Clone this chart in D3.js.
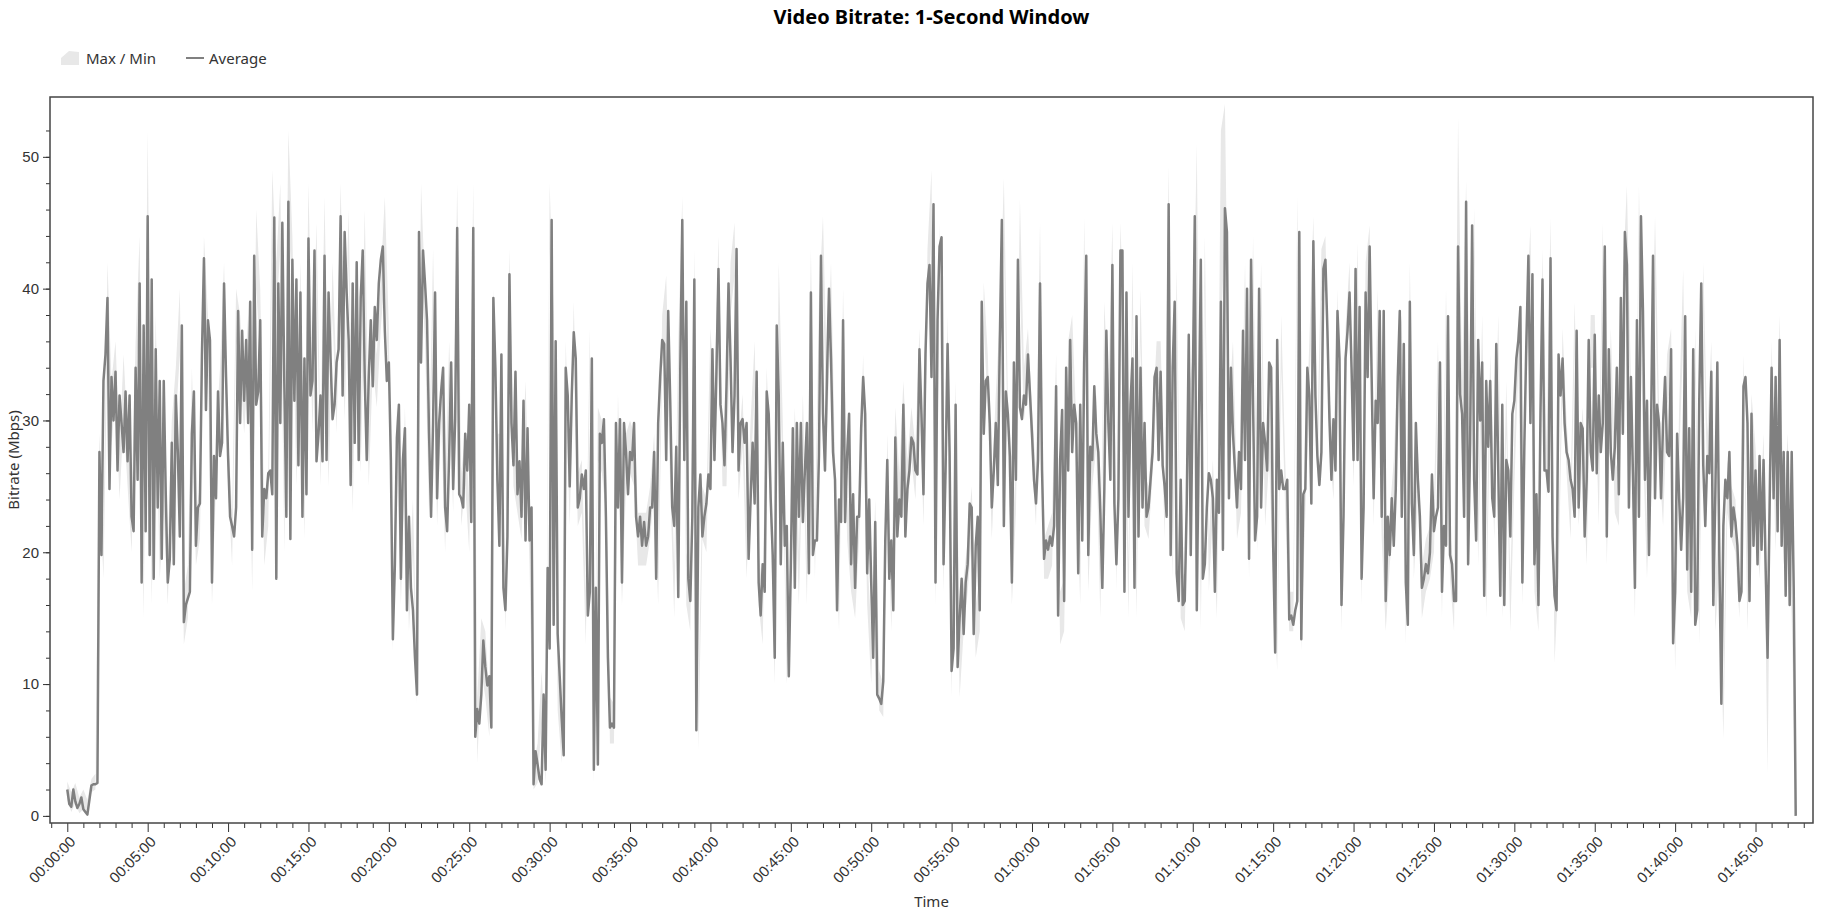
<!DOCTYPE html>
<html>
<head>
<meta charset="utf-8">
<title>Video Bitrate</title>
<style>
body { margin: 0; background: #fff; }
svg { display: block; font-family: 'Segoe UI', 'Noto Sans', 'Open Sans', sans-serif; }
.title { font-size: 20px; font-weight: bold; fill: #000; text-anchor: middle; }
.legend-label { font-size: 15px; fill: #333; dominant-baseline: central; }
.axis text { font-size: 15px; fill: #333; }
.axis line { stroke: #333; }
.axis path { display: none; }
.axis-title { font-size: 15px; fill: #333; text-anchor: middle; }
.frame { fill: none; stroke: #444; stroke-width: 1.5px; }
.band { fill: #e8e8e8; }
.avg { fill: none; stroke: #808080; stroke-width: 2.5px; stroke-linejoin: round; }
</style>
</head>
<body>
<svg width="1837" height="916"></svg>
<script src="https://cdn.jsdelivr.net/npm/d3@7"></script>
<script>
// average read every 7.5 s, max/min band every 15 s (Mbps)
var avgStepSeconds = 7.5;
var bandStepSeconds = 15;

var avgMbps = [
  2.0,0.9,0.7,2.0,1.1,0.6,0.9,1.4, 0.5,0.3,0.1,1.2,2.3,2.4,2.4,2.5,
  27.6,19.8,33,35,39.3,24.8,33.3,30, 33.7,26.2,31.9,29.8,27.6,32.2,26.9,31.9,
  22.7,21.6,34,25.5,40.4,17.7,37.2,21.6, 45.5,19.8,40.7,18,35.4,23.4,33,19.5,
  33,24.4,17.7,19.5,28.3,19.1,31.9,27.6, 21.2,37.2,14.7,16,16.5,17,29,32.2,
  20.5,23.4,23.7,35,42.3,30.8,37.6,36.1, 17.7,27.3,24.1,32.2,27.3,28.3,40.4,33.3,
  27.3,22.7,22,21.2,23.4,38.3,29.8,36.8, 31.5,36.1,29.8,39,20.2,42.5,31.2,32.2,
  37.6,21.2,24.8,24.1,26,26.2,24.4,45.4, 18,40.4,29.8,45,32.6,22.7,46.6,21,
  42.2,31.5,40.7,26.6,39.7,22.7,34.7,24.4, 43.8,31.9,33,42.9,26.9,29,31.9,26.9,
  42.5,27,39.7,34.7,30.1,31.2,34.4,35.4, 45.5,31.9,44.3,39.7,36.1,25.1,40.4,28.3,
  42,27,39.3,42.9,33.3,27,33.3,37.6, 32.6,38.6,36.1,40.4,42.2,43.2,36.8,33,
  34.4,27,13.4,19.1,28.7,31.2,18,27, 29.4,15.6,22.7,17.3,15.6,12,9.2,44.3,
  34.4,42.9,40.4,37.6,29,22.7,29.8,39.7, 24.1,29.8,32.2,34,23.4,21.6,27.3,34.4,
  24.8,30.1,44.6,24.4,24.1,23.4,29,26.2, 31.2,22.3,44.6,6,8.1,7,9.2,13.3,
  11.3,9.9,10.6,6.7,39.3,34,25.5,20.5, 35,17.3,15.6,21.2,41.1,29.8,26.6,33.7,
  24.4,26.9,22.7,31.5,20.9,29.4,20.9,23.4, 2.4,4.9,3.9,2.8,2.4,9.2,3.5,18.8,
  12.7,45.2,14.5,36,13.8,10.6,7.4,4.6, 34,31.9,25,31.9,36.7,34.7,23.4,24.1,
  25.9,24.8,26.2,15.2,17,34.7,3.5,17.3, 3.9,29,28.3,30.1,22.7,12,6.7,7,
  6.7,29.8,23.4,30.1,17.7,29.8,27.6,24.4, 27.6,27,29.8,22.7,21.2,22.7,20.5,22.3,
  20.5,21.2,23.4,23.4,27.6,18,29.8,33.3, 36.1,35.8,27,38.3,31.5,23.4,22,28,
  16.6,34,45.2,27,39,18,16.3,22.7, 40.7,6.5,23.4,25.9,21.2,22.7,23.7,25.9,
  24.8,35.4,27,33.7,41.5,31.2,29.8,26.6, 32.6,40.4,34.7,27.6,31.9,43,26.2,29.8,
  30.1,28.3,29.8,19.5,24,28.3,23.7,33.7, 17.7,15.2,19.1,17,32.2,30.5,24,19.8,
  12,37.2,31.9,19.1,28.3,20.5,22,10.6, 18.8,29.4,17.3,29.8,22.7,29.8,22.3,26.2,
  29.8,18.4,39.7,19.8,20.9,20.9,27.3,42.5, 30.5,26.2,33.3,40,34.7,27.6,25.5,15.6,
  24,22.3,37.6,22.3,27.3,30.5,19.1,24.4, 17.3,22.7,22.7,29.4,33.3,30.5,18.4,24,
  17.7,12,22.3,9.2,8.9,8.5,10.2,20.9, 27,18,20.9,15.6,28.7,21.2,24,22.7,
  31.2,21.2,24.8,26.2,28.7,28.3,26.2,25.9, 35.4,30.5,24.4,35,40.4,41.8,33.3,46.4,
  17.7,37.6,43.2,43.9,19.1,26.2,35.8,27.6, 11,12.7,31.2,11.3,15,18,13.8,17.7,
  19.1,23.7,23.4,13.8,20.5,22.7,15.6,39, 29,33,33.3,29.8,23.4,26.2,29.8,25.1,
  36.1,45.2,22,32.2,30.5,27.3,17.7,34.4, 25.5,42.2,31,30.1,31.9,31.2,35,32,
  29,25.5,23.7,27,40.4,26.2,19.5,20.9, 20.2,21.2,20.5,22,32.6,15.2,27,30.8,
  16.3,34,26.2,36.1,27.6,31.2,29.8,18.4, 31.2,20.9,34.7,42.5,19.8,28,27,32.6,
  29,27.6,23,17.3,24.8,36.8,29.8,25.5, 41.8,23.7,19.1,24.1,42.9,42.9,17,39.7,
  22.7,31.2,34.7,17.3,37.9,21.2,34,23.4, 29.8,22.7,23.4,25.5,27.6,33.3,34,27,
  33.7,26.6,25,22.7,46.4,19.8,34,39, 18.4,16.3,25.5,16,16.3,23.7,36.5,19.8,
  32.6,45.5,15.6,29,42.2,18,19.1,23.4, 26,25.5,24.1,17,25.5,23,39,20.2,
  46.1,44.3,24.1,34,29,26.2,23.4,27.6, 24.8,36.8,27,40,19.5,42.2,31.2,20.9,
  22.7,40,23.4,29.8,28.3,26.2,34.4,34, 20.5,12.4,36.1,24.8,26.2,24.8,24.8,25.5,
  14.9,15.2,14.5,15.6,16.3,44.3,13.4,24.4, 24.8,34,31.9,23.7,43.6,31.9,27.3,25.1,
  27.6,41.5,42.2,36.8,30.1,25.5,30.1,26.2, 38.3,34.7,16,22.7,34.7,36.8,39.7,34,
  27,41.5,27,38.6,18,23.4,39.7,33.3, 43.2,33.3,24.1,31.5,29.8,38.3,22.7,38.3,
  16.3,22.7,19.8,24.1,20.5,24.8,33.3,38.3, 22.7,35.8,17.7,14.5,39,23.7,19.8,29.8,
  25.5,22.7,17.3,18,19.1,18.4,20,25.9, 21.6,22.7,23.4,34.4,17,22,20.5,37.9,
  19.8,19.1,16.3,16.3,43.2,32,30.5,22.7, 46.6,19.1,28.3,44.8,25.5,20.9,36.1,30,
  34.4,16.7,33,28,33,24.1,22.7,35.8, 26.2,16.7,31.2,16,27,26.2,21.2,30.5,
  31.5,34.7,36.1,38.6,17.7,28.3,36.1,42.5, 29.8,41.1,19.1,24.4,16,30.5,40.7,26.2,
  26.2,24.6,42.3,21.2,16.7,15.6,35,31.9, 34.7,29.8,27.6,27,25.5,24.8,22.7,36.8,
  23.4,29.8,29.4,21.2,25.5,36.1,27.6,26.2, 36.5,26,31.9,27.6,29.8,43.2,21.2,35.4,
  27.6,25.5,28,34,24.4,39.3,29,44.3, 41.8,23.4,33.3,26,17.3,37.6,22.7,45.5,
  38.3,25.5,31.5,19.8,29,42.5,24.1,31.2, 29.8,24.1,29.8,33.3,27.6,27.3,35.4,13.1,
  17,29,24.1,20.2,24.1,37.9,18.7,29.4, 17,35.4,14.5,15.6,31.5,40.4,26.6,22,
  27.3,26,33.7,16,24.4,34.4,19.5,8.5, 22,25.5,24.1,27.6,21.2,23.4,22.3,20.5,
  16.3,17,32.6,33.3,29.8,16.3,30.5,20.5, 26.2,19.1,27.3,20.2,27,19.1,12,23.4,
  34,24.1,33.3,21.6,36.1,20.5,27.6,16.7, 27.6,16,27.6,17.3,0
];

var maxMbps = [
  2.6,1.8,2.5,1.4, 2.0,1.2,2.8,3.2, 29,22,42,33, 36,28,35,29, 24,36,44,20,
  52,21,38,22, 27,20,30,34, 40,17,19,34, 23,25,44,38, 20,29,34,42,
  29,23,40,38, 33,38,22,46, 40,23,26,49, 42,48,25,52, 44,29,42,25,
  48,33,45,29, 47,29,42,33, 48,34,46,27, 42,30,46,29, 38,35,41,47,
  37,15,31,20, 31,18,24,11, 48,40,27,43, 26,34,24,36, 27,48,26,29,
  24,48,9,15, 14,9,40,29, 29,18,43,29, 27,25,33,23, 4,5.5,11,5,
  48,38,12,7, 36,26,39,26, 27,17,37,5, 31,30,27,9, 8.5,32,20,29,
  30,29,23,23, 23,25,29,20, 38,41,29,19, 36,47,20,18, 43,9,25,24,
  37,32,44,29, 29,42,45,28, 32,22,30,36, 20,17,34,26, 14,42,30,13,
  21,31,20,32, 20,43,22,39, 45.5,33,42,27, 18,40,25,21, 19,25,35,20,
  14,24,11,10, 29,18,31,26, 33,27,31,28, 37,26,43,49, 20,45,21,38,
  13,33,13,18, 21,25,16,18, 40.5,35,25,32, 38,48.4,32,20, 27,46.8,34,37,
  31,26,45,21, 22,23,35,17, 18,36,38,30, 20,45.4,21,29, 32,19,39,32,
  45,21,45,36, 19,42,19,40, 26,25,30,36, 36,25,49.3,22, 41.5,19,18,32,
  35,51,18,44, 21,27,19,52, 54,31,36,25, 27,42,22,44, 24,42,26,31,
  22,14,38,27, 17,17,47,15, 27,36,45.5,29, 43,44,32,28, 40,18,37,42,
  29,43.5,20,42, 44.8,26,40,25, 18,23,27,35, 38,16,42,22, 28,19,21,22,
  24,36,19,40, 22,18,53,33, 48.2,30,46.1,23, 38,19,35,25, 38,19,33,18,
  29,38,20,38, 44.8,21,18,43, 28,45.4,19,22, 37,30,25,39, 26,31,23,38,
  38,26,45,23, 37,27,26,41, 47.8,33,19,47.8, 32,22,31,45.5, 31,26,35,37,
  15,31,41.5,21, 19,37,17,42, 29,36,18,23, 10,27,25,24, 18,35,18,32,
  28,22,29,14, 36,24,38,23, 29,18,0
];

var minMbps = [
  1.2,0.3,1.0,0.2, 0.5,0,1.8,2.0, 25,18,36,28, 32,24,30,25, 20,32,38,15,
  43,16,33,18, 23,16,26,30, 35,13,15,30, 19,21,40,34, 16,25,30,38,
  25,19,36,34, 29,34,17,40, 35,19,22,43, 38,43,20,45, 40,25,38,21,
  42,29,41,25, 40,25,38,29, 43,30,42,23, 38,26,40,25, 34,31,37,41,
  32,12.5,27,16, 27,14,20,8.5, 42,36,23,38, 22,30,20,32, 23,43,22,25,
  20,43,4,11, 9,6,36,25, 25,14,39,25, 23,21,29,19, 2,2.5,7,2.5,
  43,34,8,4, 32,22,35,22, 23,13,33,2.5, 27,26,23,5.5, 5.5,28,16,25,
  26,25,19,19, 19,21,25,16, 34,36,25,15, 32,43,16,14, 39,5,21,20,
  33,28,39,25, 25,38,41,24, 28,18,26,32, 16,13,30,22, 10,35,26,10,
  17,27,16,28, 16,38,18,35, 40,29,38,23, 14,36,21,17, 15,21,31,16,
  10,20,8,7.5, 25,14,27,22, 29,23,27,24, 33,22,38,44, 16,41,17,34,
  9,29,9,14, 17,21,12,14, 37,31,21,28, 34,43,28,16, 23,40,30,33,
  27,22,38,18, 18,19,31,13, 14,32,34,26, 16,40,17,25, 28,15,35,28,
  40,17,41,32, 15,38,15,36, 22,21,26,32, 32,21,44,18, 37,15,14,28,
  31,43,14,40, 17,23,15,37, 44,27,32,21, 23,38,18,40, 20,38,22,27,
  18,11,34,23, 14,14,42,12.5, 23,32,41,25, 39,40,28,24, 36,14,33,38,
  25,39,16,38, 41,22,36,21, 14,19,23,31, 34,13,37,18, 24,15,17,18,
  20,32,15,36, 18,14,41,29, 44,26,42,19, 34,15,31,21, 34,15,29,14,
  25,34,16,34, 40,17,14,39, 24,40,11.6,18, 33,26,21,35, 22,27,19,34,
  34,22,41,19, 33,23,22,37, 42,29,15,43, 28,18,27,40, 27,22,31,33,
  11,27,36,17, 15,33,13,38, 25,32,14,19, 5.8,23,21,20, 15,31,14,28,
  24,18,25,3.2, 32,20,34,19, 25,15,0
];

var yTickValues = [0, 10, 20, 30, 40, 50];
var legendLabels = ["Max / Min", "Average"];

var svg = d3.select("svg"),
    width = +svg.attr("width"),
    height = +svg.attr("height");
var margin = {top: 97, right: 24, bottom: 93, left: 50};
var w = width - margin.left - margin.right,
    h = height - margin.top - margin.bottom;

var avgData = avgMbps.map(function(v, i) { return {t: i * avgStepSeconds, v: v}; });
var bandData = maxMbps.map(function(v, i) {
  return {t: i * bandStepSeconds, max: v, min: minMbps[i]};
});

// 1% padding each side, like the original
var tMax = d3.max(avgData, function(d) { return d.t; });
var xPad = tMax * 0.01;
var x = d3.scaleLinear().domain([-xPad, tMax + xPad]).range([0, w]);
var yHi = d3.max(maxMbps), yLo = d3.min(minMbps);
var yPad = (yHi - yLo) * 0.01;
var y = d3.scaleLinear().domain([yLo - yPad, yHi + yPad]).range([h, 0]);

function hms(s) {
  var p = function(n) { return (n < 10 ? "0" : "") + n; };
  return p(Math.floor(s / 3600)) + ":" + p(Math.floor(s % 3600 / 60)) + ":" + p(s % 60);
}

svg.append("text")
  .attr("class", "title")
  .attr("x", margin.left + w / 2)
  .attr("y", 24)
  .text("Video Bitrate: 1-Second Window");

// legend
var legend = svg.append("g").attr("transform", "translate(61,58)");
legend.append("path")
  .attr("d", "M0,7 L0,0 L8,-7 L18,-6 L18,7 Z")
  .attr("fill", "#e8e8e8");
legend.append("text").attr("class", "legend-label").attr("x", 25).attr("y", 0).text(legendLabels[0]);
legend.append("line")
  .attr("x1", 125).attr("x2", 143).attr("y1", 0).attr("y2", 0)
  .attr("stroke", "#808080").attr("stroke-width", 2);
legend.append("text").attr("class", "legend-label").attr("x", 148).attr("y", 0).text(legendLabels[1]);

var g = svg.append("g").attr("transform", "translate(" + margin.left + "," + margin.top + ")");

g.append("clipPath").attr("id", "clip")
  .append("rect").attr("width", w).attr("height", h);

var plot = g.append("g").attr("clip-path", "url(#clip)");

plot.append("path")
  .datum(bandData)
  .attr("class", "band")
  .attr("d", d3.area()
    .x(function(d) { return x(d.t); })
    .y0(function(d) { return y(d.min); })
    .y1(function(d) { return y(d.max); }));

plot.append("path")
  .datum(avgData)
  .attr("class", "avg")
  .attr("d", d3.line()
    .x(function(d) { return x(d.t); })
    .y(function(d) { return y(d.v); }));

// x axis: minor tick every minute, labels every 5 minutes
var minorX = d3.range(-60, tMax + xPad, 60).filter(function(s) { return s % 300 !== 0; });
g.append("g")
  .attr("class", "axis")
  .attr("transform", "translate(0," + h + ")")
  .call(d3.axisBottom(x).tickValues(minorX).tickSize(5).tickFormat(""));

var xAxis = g.append("g")
  .attr("class", "axis")
  .attr("transform", "translate(0," + h + ")")
  .call(d3.axisBottom(x).tickValues(d3.range(0, tMax + 1, 300)).tickSize(9).tickFormat(hms));
xAxis.selectAll("text")
  .attr("x", 0).attr("y", 0).attr("dy", "0.35em")
  .attr("text-anchor", "end")
  .attr("transform", "translate(5,16) rotate(-45)");

// y axis: minor tick every 2 Mbps
g.append("g")
  .attr("class", "axis")
  .call(d3.axisLeft(y).tickValues(d3.range(0, yHi, 2)).tickSize(4).tickFormat(""));
g.append("g")
  .attr("class", "axis")
  .call(d3.axisLeft(y).tickValues(yTickValues).tickSize(7).tickPadding(4));

g.append("rect")
  .attr("class", "frame")
  .attr("width", w)
  .attr("height", h);

svg.append("text")
  .attr("class", "axis-title")
  .attr("transform", "translate(14," + (margin.top + h / 2) + ") rotate(-90)")
  .attr("dy", "0.35em")
  .text("Bitrate (Mbps)");

svg.append("text")
  .attr("class", "axis-title")
  .attr("x", margin.left + w / 2)
  .attr("y", 907)
  .text("Time");
</script>
</body>
</html>
